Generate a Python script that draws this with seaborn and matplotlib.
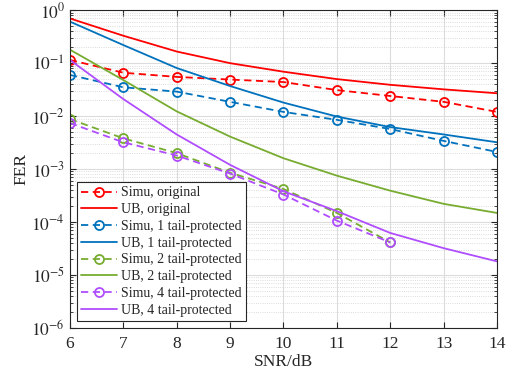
import numpy as np
import pandas as pd
import matplotlib
matplotlib.use("Agg")
import matplotlib.pyplot as plt
from matplotlib.ticker import FixedLocator, NullFormatter
import seaborn as sns

# --- data ---
snr = [6, 7, 8, 9, 10, 11, 12, 13, 14]
snr_simu_short = [6, 7, 8, 9, 10, 11, 12]

simu_orig = [0.115, 0.066, 0.055, 0.049, 0.044, 0.031, 0.024, 0.0186, 0.012]
ub_orig = [0.70, 0.33, 0.166, 0.10, 0.069, 0.050, 0.039, 0.032, 0.027]
simu_1 = [0.060, 0.035, 0.029, 0.0186, 0.012, 0.0085, 0.0057, 0.0034, 0.0021]
ub_1 = [0.61, 0.22, 0.081, 0.037, 0.018, 0.0098, 0.0062, 0.0045, 0.0032]
simu_2 = [0.0088, 0.0038, 0.0020, 0.00085, 0.00042, 0.000148, 0.000041]
ub_2 = [0.18, 0.048, 0.0123, 0.0041, 0.0016, 0.00075, 0.00039, 0.00022, 0.000148]
simu_4 = [0.0074, 0.0032, 0.0018, 0.00082, 0.00033, 0.000106, 0.000041]
ub_4 = [0.115, 0.021, 0.0045, 0.0012, 0.00038, 0.00016, 0.000062, 0.000032, 0.000018]

y_exponents = [-6, -5, -4, -3, -2, -1, 0]

RED = "#FF0000"
BLUE = "#0072BD"
GREEN = "#77AC30"
PURPLE = "#B04DFF"

series = [
    ("Simu, original", snr, simu_orig, RED, True),
    ("UB, original", snr, ub_orig, RED, False),
    ("Simu, 1 tail-protected", snr, simu_1, BLUE, True),
    ("UB, 1 tail-protected", snr, ub_1, BLUE, False),
    ("Simu, 2 tail-protected", snr_simu_short, simu_2, GREEN, True),
    ("UB, 2 tail-protected", snr, ub_2, GREEN, False),
    ("Simu, 4 tail-protected", snr_simu_short, simu_4, PURPLE, True),
    ("UB, 4 tail-protected", snr, ub_4, PURPLE, False),
]

sns.set_style("ticks")
plt.rcParams["font.family"] = ["Liberation Serif", "DejaVu Serif"]
plt.rcParams["mathtext.fontset"] = "stix"

fig = plt.figure(figsize=(5.14, 3.79), dpi=100)
ax = fig.add_axes([0.136, 0.135, 0.831, 0.838])

for label, x, y, color, is_simu in series:
    df = pd.DataFrame({"snr": x, "fer": y})
    if is_simu:
        sns.lineplot(data=df, x="snr", y="fer", ax=ax, color=color, label=label,
                     linestyle="--", linewidth=1.3, marker="o", markersize=6.5,
                     markerfacecolor="none", markeredgecolor=color,
                     markeredgewidth=1.3, dashes=False)
        ax.lines[-1].set_linestyle((0, (4, 2.5)))
    else:
        sns.lineplot(data=df, x="snr", y="fer", ax=ax, color=color, label=label,
                     linewidth=1.3)

ax.set_yscale("log")
ax.set_xlim(6, 14)
ax.set_ylim(1e-6, 1)
ax.set_xticks(snr)

# explicit decade ticks so nothing sits outside the axes
ax.set_yticks([10.0 ** e for e in y_exponents])
ax.set_yticklabels([r"$10^{%d}$" % e for e in y_exponents])
minor = [m * 10.0 ** e for e in y_exponents[:-1] for m in range(2, 10)]
ax.yaxis.set_minor_locator(FixedLocator(minor))
ax.yaxis.set_minor_formatter(NullFormatter())

ax.grid(True, which="major", color="#DCDCDC", linewidth=0.8, linestyle="-")
ax.grid(True, which="minor", axis="y", color="#D0D0D0", linewidth=0.6, linestyle=":")
ax.set_axisbelow(True)

ax.tick_params(which="both", direction="in", top=True, right=True, colors="#262626",
               labelsize=12.5)
ax.tick_params(which="major", length=4)
ax.tick_params(which="minor", length=2)
ax.tick_params(axis="x", pad=6)
for sp in ax.spines.values():
    sp.set_visible(True)
    sp.set_color("#262626")
    sp.set_linewidth(0.8)

ax.set_xlabel("SNR/dB", fontsize=12.5, labelpad=1)
ax.set_ylabel("FER", fontsize=12.5, labelpad=1)

leg = ax.legend(loc="lower left", fontsize=10, frameon=True, fancybox=False,
                framealpha=1, edgecolor="#262626", handlelength=2.6,
                borderaxespad=0.5, labelspacing=0.27, handletextpad=0.3,
                borderpad=0.3)
leg.get_frame().set_linewidth(0.8)

fig.savefig("out.png", dpi=100)
